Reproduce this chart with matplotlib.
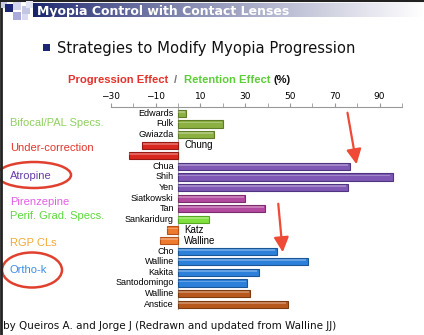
import numpy as np
import matplotlib
matplotlib.use("Agg")
import matplotlib.pyplot as plt
from matplotlib.patches import Ellipse, Rectangle

# study names (empty = second Under-correction bar, unlabeled)
names = ["Edwards", "Fulk", "Gwiazda", "Chung", "", "Chua", "Shih", "Yen",
         "Siatkowski", "Tan", "Sankaridurg", "Katz", "Walline", "Cho",
         "Walline", "Kakita", "Santodomingo", "Walline", "Anstice"]
effect = [3.4, 20, 16, -16, -22, 77, 96, 76, 30, 39, 14, -5, -8,
          44, 58, 36, 31, 32, 49]
group = ["bif", "bif", "bif", "under", "under", "atro", "atro", "atro",
         "piren", "piren", "pgs", "rgp", "rgp", "orthok", "orthok", "orthok",
         "orthok", "orthok2", "orthok2"]

ticks = [-30, -10, 10, 30, 50, 70, 90]

face = {"bif": "#8db043", "under": "#d9281f", "atro": "#7e58b4",
        "piren": "#b3489f", "pgs": "#80e03e", "rgp": "#ee7a2e",
        "orthok": "#2d80da", "orthok2": "#b9581c"}
edge = {"bif": "#5f7c26", "under": "#961a14", "atro": "#4f3482",
        "piren": "#7a2c6c", "pgs": "#55a820", "rgp": "#b5521a",
        "orthok": "#1a5598", "orthok2": "#7c3a10"}

W, H = 424, 335
fig = plt.figure(figsize=(W / 100, H / 100), dpi=100)
fig.patch.set_facecolor("white")

# main chart
x0, x1, y0, y1 = 110.7, 402, 107, 310
ax = fig.add_axes([x0 / W, 1 - y1 / H, (x1 - x0) / W, (y1 - y0) / H])
ypos = np.arange(len(names))
for i in range(len(names)):
    g = group[i]
    ax.barh(ypos[i], effect[i], height=0.68, color=face[g],
            edgecolor=edge[g], linewidth=0.8, zorder=3)
    # light top highlight
    ax.barh(ypos[i] - 0.14, effect[i] * 0.985, height=0.18, color="white",
            alpha=0.28, linewidth=0, zorder=4)
ax.set_xlim(-30, 100)
ax.set_ylim(len(names) - 0.45, -0.6)
ax.axvline(0, color="#b0b0b0", lw=0.8, zorder=2)
ax.xaxis.tick_top()
ax.set_xticks(ticks)
ax.set_xticks(np.arange(-30, 101, 10), minor=True)
ax.tick_params(axis="x", which="both", length=3, color="#999999",
               labelsize=6.5, pad=1.5)
ax.set_yticks([])
for s in ["bottom", "left", "right"]:
    ax.spines[s].set_visible(False)
ax.spines["top"].set_color("#999999")
ax.spines["top"].set_linewidth(0.8)

for i, n in enumerate(names):
    if not n:
        continue
    if effect[i] >= 0:
        ax.annotate(n, (0, ypos[i]), xytext=(-3, 0), textcoords="offset points",
                    ha="right", va="center", fontsize=6.5,
                    family="Liberation Sans")
    else:
        ax.annotate(n, (0, ypos[i]), xytext=(4.5, 0), textcoords="offset points",
                    ha="left", va="center", fontsize=7,
                    family="Liberation Sans")

# overlay in pixel coordinates
ov = fig.add_axes([0, 0, 1, 1], zorder=5)
ov.set_xlim(0, W)
ov.set_ylim(H, 0)
ov.axis("off")
ov.patch.set_alpha(0)

# header
grad = np.linspace(0, 1, 256)
c0 = np.array([0.09, 0.13, 0.42])
c1 = np.array([1.0, 1.0, 1.0])
t = np.clip(grad ** 0.8, 0, 1)[None, :, None]
img = c0 * (1 - t) + c1 * t
ov.imshow(img, extent=[33, W, 17.5, 4], aspect="auto", zorder=1)
ov.plot([0, W], [0.8, 0.8], color="#222222", lw=1.5, zorder=2)
ov.plot([1, 1], [0, H], color="#222222", lw=2, zorder=2)
for (sx, sy, sw, c) in [(1, 2, 6, "#c9cbe6"), (5, 4, 8, "#1c2674"),
                        (13, 2, 8, "#d3d4ec"), (13, 12, 8, "#a9acd8"),
                        (22, 6, 8, "#c3c5e4"), (22, 14, 6, "#dadbf0"),
                        (26, 1, 7, "#e2e3f4")]:
    ov.add_patch(Rectangle((sx, sy), sw, sw, color=c, lw=0, zorder=3))
ov.text(37, 11, "Myopia Control with Contact Lenses", color="white",
        fontsize=9, fontweight="bold", va="center", ha="left", zorder=4)

# slide title
ov.add_patch(Rectangle((43, 44), 7, 7, color="#1c2674", lw=0))
ov.text(57, 48, "Strategies to Modify Myopia Progression", fontsize=10.6,
        va="center", ha="left", color="#111111")

# chart title
tx = 68
for s, c, gap in [("Progression Effect", "#e8302a", 6), ("/", "#777777", 7),
                  ("Retention Effect", "#5ccd37", 3), ("(%)", "#111111", 0)]:
    tt = ov.text(tx, 80, s, color=c, fontsize=8.1, fontweight="bold",
                 va="center", ha="left", family="Liberation Sans")
    fig.canvas.draw()
    bb = tt.get_window_extent()
    tx += bb.width + gap

# group labels
for s, y, c in [("Bifocal/PAL Specs.", 123, "#8fd060"),
                ("Under-correction", 148, "#e2352c"),
                ("Atropine", 176, "#6a3aa8"),
                ("Pirenzepine", 202, "#e25ee6"),
                ("Perif. Grad. Specs.", 216, "#5ed83c"),
                ("RGP CLs", 243, "#f3a935"),
                ("Ortho-k", 270, "#3b8fe6")]:
    ov.text(10, y, s, color=c, fontsize=8, va="center", ha="left",
            family="Liberation Sans")

ov.add_patch(Ellipse((34, 175), 74, 26, fill=False, ec="#e0402e", lw=1.8))
ov.add_patch(Ellipse((32, 270), 60, 35, fill=False, ec="#e0402e", lw=1.8))

# arrows
for (ax_, ay_), (bx_, by_) in [((347, 110), (357, 167)),
                               ((278, 201), (283, 255))]:
    ov.annotate("", xy=(bx_, by_), xytext=(ax_, ay_),
                arrowprops=dict(arrowstyle="-|>,head_length=0.9,head_width=0.45",
                                color="#ee4a35", lw=1.6))

ov.text(3, 326, "by Queiros A. and Jorge J (Redrawn and updated from Walline JJ)",
        fontsize=7.5, va="center", ha="left", color="#111111")

fig.savefig("out.png", dpi=100)
